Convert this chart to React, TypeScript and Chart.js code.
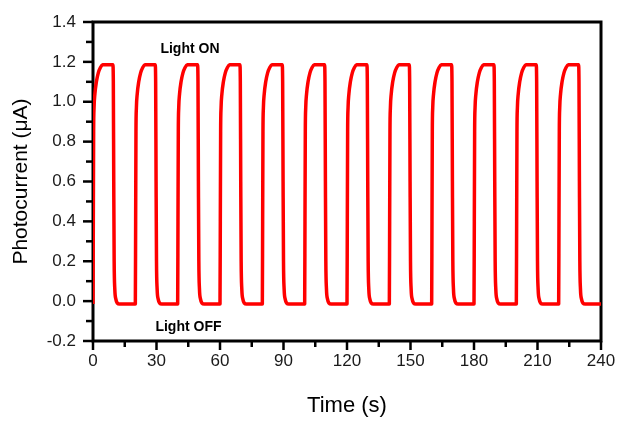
import { useEffect, useRef } from 'react';
import { Chart, registerables } from 'chart.js';

Chart.register(...registerables);

// Start time (s) of each light-ON cycle
const cycleOnsets = [0, 20, 40, 60, 80, 100, 120, 140, 160, 180, 200, 220];
// One ON/OFF cycle: time offset (s) and photocurrent (µA)
const profileOffsets = [0.0, 0.15, 0.3, 0.5, 0.9, 1.6, 2.5, 3.5, 4.5, 9.4, 9.6, 9.8, 10.0, 10.3, 10.8, 11.5, 12.5, 19.85];
const profileValues = [-0.015, 0.4, 0.85, 0.97, 1.04, 1.1, 1.145, 1.172, 1.185, 1.185, 1.1, 0.6, 0.2, 0.06, 0.01, -0.01, -0.015, -0.015];
const endTime = 240;
const endValue = -0.015;

const xTickValues = [0, 30, 60, 90, 120, 150, 180, 210, 240];
const yTickValues = [-0.2, 0, 0.2, 0.4, 0.6, 0.8, 1.0, 1.2, 1.4];
const xMinorStep = 15;
const yMinorStep = 0.1;

const labelOn = 'Light ON';
const labelOff = 'Light OFF';

const FONT = "'Liberation Sans', Arial, sans-serif";

const buildPoints = () => {
  const pts: { x: number; y: number }[] = [];
  cycleOnsets.forEach((t0) => {
    profileOffsets.forEach((dt, i) => pts.push({ x: t0 + dt, y: profileValues[i] }));
  });
  pts.push({ x: endTime, y: endValue });
  return pts;
};

const framePlugin = {
  id: 'frameTicks',
  beforeDatasetsDraw(chart: any) {
    const { ctx, chartArea, scales } = chart;
    const { left, right, top, bottom } = chartArea;
    const x = scales.x;
    const y = scales.y;
    ctx.save();
    ctx.strokeStyle = '#000';
    ctx.lineWidth = 3;
    ctx.strokeRect(left, top, right - left, bottom - top);
    ctx.lineWidth = 2.5;
    ctx.lineCap = 'butt';
    for (let v = x.min; v <= x.max + 1e-6; v += xMinorStep) {
      const major = xTickValues.some((t) => Math.abs(t - v) < 1e-6);
      const px = x.getPixelForValue(v);
      ctx.beginPath();
      ctx.moveTo(px, bottom);
      ctx.lineTo(px, bottom + (major ? 9 : 6));
      ctx.stroke();
    }
    for (let v = y.min; v <= y.max + 1e-6; v += yMinorStep) {
      const major = yTickValues.some((t) => Math.abs(t - v) < 1e-6);
      const py = y.getPixelForValue(v);
      ctx.beginPath();
      ctx.moveTo(left, py);
      ctx.lineTo(left - (major ? 10 : 7), py);
      ctx.stroke();
    }
    ctx.restore();
  },
  afterDatasetsDraw(chart: any) {
    const { ctx, scales } = chart;
    const x = scales.x;
    const y = scales.y;
    ctx.save();
    ctx.fillStyle = '#000';
    ctx.font = `bold 14px ${FONT}`;
    ctx.textAlign = 'center';
    ctx.textBaseline = 'middle';
    ctx.fillText(labelOn, x.getPixelForValue(45.8), y.getPixelForValue(1.263));
    ctx.fillText(labelOff, x.getPixelForValue(45.1), y.getPixelForValue(-0.13));
    ctx.restore();
  },
};

export default function App() {
  const canvasRef = useRef<HTMLCanvasElement | null>(null);

  useEffect(() => {
    if (!canvasRef.current) return;
    const chart = new Chart(canvasRef.current, {
      type: 'scatter',
      data: {
        datasets: [
          {
            data: buildPoints(),
            showLine: true,
            borderColor: '#ff0000',
            backgroundColor: '#ff0000',
            borderWidth: 3.5,
            pointRadius: 0,
            cubicInterpolationMode: 'monotone',
            borderJoinStyle: 'round',
          },
        ],
      },
      options: {
        responsive: false,
        animation: false,
        devicePixelRatio: 1,
        layout: { padding: { top: 22, right: 17, left: 0, bottom: 0 } },
        plugins: { legend: { display: false }, tooltip: { enabled: false } },
        scales: {
          x: {
            type: 'linear',
            min: 0,
            max: 240,
            afterBuildTicks: (s: any) => {
              s.ticks = xTickValues.map((v) => ({ value: v }));
            },
            afterFit: (s: any) => {
              s.height = 81;
              s.paddingLeft = 0;
              s.paddingRight = 0;
            },
            grid: { display: false, drawTicks: false },
            border: { display: false },
            ticks: {
              autoSkip: false,
              maxRotation: 0,
              padding: 10,
              color: '#1a1a1a',
              font: { family: FONT, size: 17 },
            },
            title: {
              display: true,
              text: 'Time (s)',
              color: '#000',
              font: { family: FONT, size: 22 },
              padding: { top: 0, bottom: 3 },
            },
          },
          y: {
            type: 'linear',
            min: -0.2,
            max: 1.4,
            afterBuildTicks: (s: any) => {
              s.ticks = yTickValues.map((v) => ({ value: v }));
            },
            afterFit: (s: any) => {
              s.width = 93;
              s.paddingTop = 0;
              s.paddingBottom = 0;
            },
            grid: { display: false, drawTicks: false },
            border: { display: false },
            ticks: {
              autoSkip: false,
              padding: 17,
              color: '#1a1a1a',
              font: { family: FONT, size: 17 },
              callback: (v: any) => Number(v).toFixed(1),
            },
            title: {
              display: true,
              text: 'Photocurrent (μA)',
              color: '#000',
              font: { family: FONT, size: 21 },
              padding: { top: 9, bottom: 0 },
            },
          },
        },
      },
      plugins: [framePlugin],
    });
    return () => chart.destroy();
  }, []);

  return (
    <div style={{ position: 'fixed', left: 0, top: 0, width: 618, height: 422, background: '#fff' }}>
      <canvas ref={canvasRef} width={618} height={422} style={{ display: 'block' }} />
    </div>
  );
}
